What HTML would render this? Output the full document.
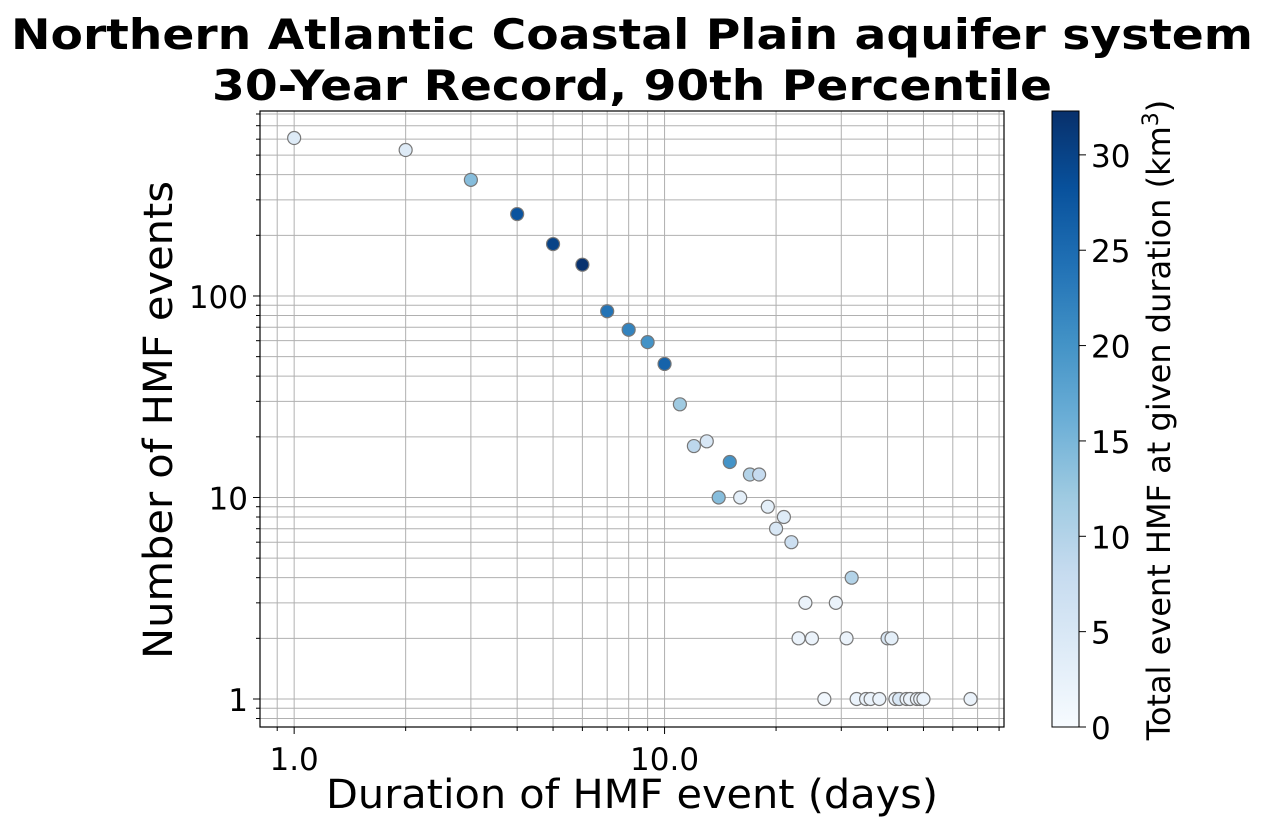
<!DOCTYPE html>
<html><head><meta charset="utf-8"><style>
body{margin:0;background:#fff;}
svg{display:block;font-family:"DejaVu Sans","Liberation Sans",sans-serif;}
</style></head><body>
<svg id="chart" width="1264" height="825" xmlns="http://www.w3.org/2000/svg">
<text x="632" y="49" font-size="42" font-weight="bold" text-anchor="middle" textLength="1242" lengthAdjust="spacingAndGlyphs">Northern Atlantic Coastal Plain aquifer system</text>
<text x="632" y="100" font-size="42" font-weight="bold" text-anchor="middle" textLength="840" lengthAdjust="spacingAndGlyphs">30-Year Record, 90th Percentile</text>
<g id="grid"></g>
<g id="ticks"></g>
<g id="points"></g>
<rect x="260" y="111" width="744" height="616" fill="none" stroke="#000" stroke-width="1.2"/>
<text x="632" y="808" font-size="40" text-anchor="middle" textLength="612" lengthAdjust="spacingAndGlyphs">Duration of HMF event (days)</text>
<text transform="translate(172,420) rotate(-90)" font-size="40" text-anchor="middle" textLength="478" lengthAdjust="spacingAndGlyphs">Number of HMF events</text>
<defs><linearGradient id="cbgrad" x1="0" y1="1" x2="0" y2="0">
<stop offset="0" stop-color="#f7fbff"/><stop offset="0.125" stop-color="#deebf7"/><stop offset="0.25" stop-color="#c6dbef"/><stop offset="0.375" stop-color="#9ecae1"/><stop offset="0.5" stop-color="#6baed6"/><stop offset="0.625" stop-color="#4292c6"/><stop offset="0.75" stop-color="#2171b5"/><stop offset="0.875" stop-color="#08519c"/><stop offset="1" stop-color="#08306b"/>
</linearGradient></defs>
<rect x="1052" y="111" width="27" height="616" fill="url(#cbgrad)" stroke="#000" stroke-width="1"/>
<g id="cbticks"></g>
<text transform="translate(1170,420) rotate(-90)" font-size="32" text-anchor="middle">Total event HMF at given duration (km<tspan font-size="22" dy="-12">3</tspan><tspan dy="12">)</tspan></text>
</svg>
<script>
const durations=[1,2,3,4,5,6,7,8,9,10,11,12,13,14,15,16,17,18,19,20,21,22,23,24,25,27,29,31,32,33,35,36,38,40,41,42,43,45,46,48,49,50,67];
const counts=[608,530,377,255,181,143,84,68,59,46,29,18,19,10,15,10,13,13,9,7,8,6,2,3,2,1,3,2,4,1,1,1,1,2,2,1,1,1,1,1,1,1,1];
const volumes=[4,4,14,28,30,32,24,22,20,26,12,9,5,14,20,3,10,8,3,5,4,7,2,2,2,1,2,2,10,2,2,2,2,5,3,2,5,2,2,2,2,2,2];
const yTickLabels=["1","10","100"];
const xTickLabels=["1.0","10.0"];
const cbTickLabels=["0","5","10","15","20","25","30"];
const VMAX=32.3;
const NS="http://www.w3.org/2000/svg";
const L=260,R=1004,T=111,B=727;
const xl0=-0.0922,xl1=1.9164,yl0=-0.139,yl1=2.918;
function X(v){return L+(Math.log10(v)-xl0)/(xl1-xl0)*(R-L);}
function Y(v){return B-(Math.log10(v)-yl0)/(yl1-yl0)*(B-T);}
const stops=["#f7fbff","#deebf7","#c6dbef","#9ecae1","#6baed6","#4292c6","#2171b5","#08519c","#08306b"].map(h=>[parseInt(h.slice(1,3),16),parseInt(h.slice(3,5),16),parseInt(h.slice(5,7),16)]);
function cmap(v){let t=Math.max(0,Math.min(1,v/VMAX))*8;let i=Math.min(7,Math.floor(t));let f=t-i;let a=stops[i],b=stops[i+1];return "rgb("+a.map((c,k)=>Math.round(c+(b[k]-c)*f)).join(",")+")";}
function el(tag,attrs,parent){const e=document.createElementNS(NS,tag);for(const k in attrs)e.setAttribute(k,attrs[k]);parent.appendChild(e);return e;}
const grid=document.getElementById('grid'),ticks=document.getElementById('ticks');
const xg=[0.9,1,2,3,4,5,6,7,8,9,10,20,30,40,50,60,70,80];
xg.forEach(v=>{const x=X(v);const g=el('line',{x1:x,x2:x,y1:T,y2:B,stroke:'#b0b0b0','stroke-width':1},grid);


const major=(v===1||v===10);const t=el('line',{x1:x,x2:x,y1:B,y2:B+(major?7:4),stroke:'#000'},ticks);

});
[1,10].forEach((v,i)=>{const t=el('text',{x:X(v),y:B+43,'font-size':31,'text-anchor':'middle'},ticks);t.textContent=xTickLabels[i];

});
const yg=[0.8,0.9];for(let d=1;d<=100;d*=10)for(let m=1;m<=9;m++)yg.push(d*m);yg.push(800);
yg.forEach(v=>{const y=Y(v);if(y<T||y>B)return;const g=el('line',{x1:L,x2:R,y1:y,y2:y,stroke:'#b0b0b0','stroke-width':1},grid);


const major=(v===1||v===10||v===100);const t=el('line',{x1:L-(major?7:4),x2:L,y1:y,y2:y,stroke:'#000'},ticks);

});
[1,10,100].forEach((v,i)=>{const t=el('text',{x:L-12,y:Y(v)+12,'font-size':31,'text-anchor':'end'},ticks);t.textContent=yTickLabels[i];

});
const pts=document.getElementById('points');
durations.forEach((d,i)=>{const c=el('circle',{cx:X(d),cy:Y(counts[i]),r:6.5,fill:cmap(volumes[i]),stroke:'#777','stroke-width':1.2},pts);

});
const cb=document.getElementById('cbticks');
cbTickLabels.forEach(s=>{const v=+s;const y=727-v/VMAX*616;const t=el('line',{x1:1079,x2:1086,y1:y,y2:y,stroke:'#000'},cb);


const tx=el('text',{x:1091,y:y+12,'font-size':31},cb);tx.textContent=s;

});
</script>
</body></html>
